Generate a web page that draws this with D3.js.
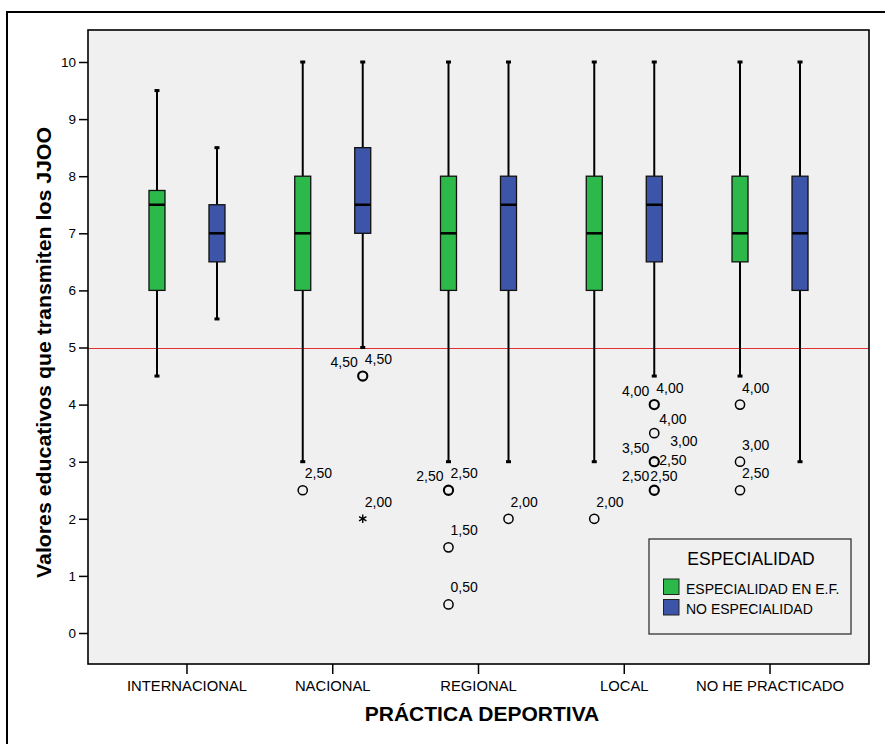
<!DOCTYPE html>
<html>
<head>
<meta charset="utf-8">
<script src="https://cdn.jsdelivr.net/npm/d3@7"></script>
<style>
  html, body { margin: 0; padding: 0; background: #ffffff; }
  svg { display: block; }
  text { font-family: "Liberation Sans", Arial, Helvetica, sans-serif; fill: #000; }
</style>
</head>
<body>
<svg id="chart" width="885" height="744"></svg>
<script>
// ---------------- DATA ----------------
const categories = ["INTERNACIONAL", "NACIONAL", "REGIONAL", "LOCAL", "NO HE PRACTICADO"];
const groups = ["ESPECIALIDAD EN E.F.", "NO ESPECIALIDAD"];
const groupColors = ["#2db84a", "#3d55a8"];

const greenLow  = [4.5, 3, 3, 3, 4.5];
const greenQ1   = [6, 6, 6, 6, 6.5];
const greenMed  = [7.5, 7, 7, 7, 7];
const greenQ3   = [7.75, 8, 8, 8, 8];
const greenHigh = [9.5, 10, 10, 10, 10];

const blueLow  = [5.5, 5, 3, 4.5, 3];
const blueQ1   = [6.5, 7, 6, 6.5, 6];
const blueMed  = [7, 7.5, 7.5, 7.5, 7];
const blueQ3   = [7.5, 8.5, 8, 8, 8];
const blueHigh = [8.5, 10, 10, 10, 10];

const yTicks = [0, 1, 2, 3, 4, 5, 6, 7, 8, 9, 10];
const referenceValue = 5;

// outliers: category, group index, value, marker, labels [text, placement code]
const outliers = [
  {cat: "NACIONAL", g: 0, v: 2.5, mark: "o", labels: [["2,50", "R"]]},
  {cat: "NACIONAL", g: 1, v: 4.5, mark: "o", labels: [["4,50", "L"], ["4,50", "R"]]},
  {cat: "NACIONAL", g: 1, v: 2.0, mark: "*", labels: [["2,00", "R"]]},
  {cat: "REGIONAL", g: 0, v: 2.5, mark: "o", labels: [["2,50", "L"], ["2,50", "R"]]},
  {cat: "REGIONAL", g: 0, v: 1.5, mark: "o", labels: [["1,50", "R"]]},
  {cat: "REGIONAL", g: 0, v: 0.5, mark: "o", labels: [["0,50", "R"]]},
  {cat: "REGIONAL", g: 1, v: 2.0, mark: "o", labels: [["2,00", "R"]]},
  {cat: "LOCAL", g: 0, v: 2.0, mark: "o", labels: [["2,00", "R"]]},
  {cat: "LOCAL", g: 1, v: 4.0, mark: "o", labels: [["4,00", "L"], ["4,00", "R"]]},
  {cat: "LOCAL", g: 1, v: 3.5, mark: "o", labels: [["4,00", "R5"]]},
  {cat: "LOCAL", g: 1, v: 3.0, mark: "o", labels: [["3,50", "L"], ["3,00", "RU"], ["2,50", "RD"]]},
  {cat: "LOCAL", g: 1, v: 2.5, mark: "o", labels: [["2,50", "L"], ["2,50", "C"]]},
  {cat: "NO HE PRACTICADO", g: 0, v: 4.0, mark: "o", labels: [["4,00", "R"]]},
  {cat: "NO HE PRACTICADO", g: 0, v: 3.0, mark: "o", labels: [["3,00", "R"]]},
  {cat: "NO HE PRACTICADO", g: 0, v: 2.5, mark: "o", labels: [["2,50", "R"]]}
];

// ---------------- LAYOUT ----------------
const svg = d3.select("#chart");
const plot = {left: 88, top: 30, right: 869, bottom: 664};

const x = d3.scaleBand().domain(categories).range([114.1, 842.9]).paddingInner(0).paddingOuter(0);
const xc = c => x(c) + x.bandwidth() / 2;
const groupOffset = d3.scalePoint().domain([0, 1]).range([-30, 30]);
const y = d3.scaleLinear().domain([(633 - plot.bottom) / 57.1, (633 - plot.top) / 57.1]).range([plot.bottom, plot.top]);
const boxW = 16;

const boxes = [];
categories.forEach((c, i) => {
  boxes.push({cat: c, g: 0, low: greenLow[i], q1: greenQ1[i], med: greenMed[i], q3: greenQ3[i], high: greenHigh[i]});
  boxes.push({cat: c, g: 1, low: blueLow[i], q1: blueQ1[i], med: blueMed[i], q3: blueQ3[i], high: blueHigh[i]});
});

// outer frame
svg.append("path").attr("d", "M7,760 L7,12 L885,12")
  .attr("fill", "none").attr("stroke", "#000").attr("stroke-width", 2);

// plot background
svg.append("rect").attr("x", plot.left).attr("y", plot.top)
  .attr("width", plot.right - plot.left).attr("height", plot.bottom - plot.top)
  .attr("fill", "#f0f0f0");

// reference line
svg.append("line")
  .attr("x1", plot.left).attr("x2", plot.right)
  .attr("y1", Math.round(y(referenceValue)) + 0.5).attr("y2", Math.round(y(referenceValue)) + 0.5)
  .attr("stroke", "#e03030").attr("stroke-width", 1.2);

// whiskers
const bx = d => xc(d.cat) + groupOffset(d.g);
const gBox = svg.append("g");
gBox.selectAll("line.wlow").data(boxes).join("line")
  .attr("x1", bx).attr("x2", bx).attr("y1", d => y(d.q1)).attr("y2", d => y(d.low))
  .attr("stroke", "#000").attr("stroke-width", 2);
gBox.selectAll("line.whigh").data(boxes).join("line")
  .attr("x1", bx).attr("x2", bx).attr("y1", d => y(d.q3)).attr("y2", d => y(d.high))
  .attr("stroke", "#000").attr("stroke-width", 2);
// caps
gBox.selectAll("rect.caplow").data(boxes).join("rect")
  .attr("x", d => bx(d) - 2.5).attr("y", d => y(d.low) - 1.5).attr("width", 5).attr("height", 3).attr("fill", "#000");
gBox.selectAll("rect.caphigh").data(boxes).join("rect")
  .attr("x", d => bx(d) - 2.5).attr("y", d => y(d.high) - 1.5).attr("width", 5).attr("height", 3).attr("fill", "#000");
// boxes
gBox.selectAll("rect.box").data(boxes).join("rect")
  .attr("x", d => bx(d) - boxW / 2).attr("y", d => y(d.q3))
  .attr("width", boxW).attr("height", d => y(d.q1) - y(d.q3))
  .attr("fill", d => groupColors[d.g]).attr("stroke", "#111").attr("stroke-width", 1.3);
// medians
gBox.selectAll("line.med").data(boxes).join("line")
  .attr("x1", d => bx(d) - boxW / 2).attr("x2", d => bx(d) + boxW / 2)
  .attr("y1", d => y(d.med)).attr("y2", d => y(d.med))
  .attr("stroke", "#000").attr("stroke-width", 2.5);

// outliers
const labelPlacement = {
  R:  {dx: 2,  dy: -12, anchor: "start"},
  L:  {dx: -5, dy: -9,  anchor: "end"},
  C:  {dx: -4, dy: -9,  anchor: "start"},
  R5: {dx: 5,  dy: -9,  anchor: "start"},
  RU: {dx: 16, dy: -16, anchor: "start"},
  RD: {dx: 5,  dy: 3,   anchor: "start"}
};
const gOut = svg.append("g");
outliers.forEach(o => {
  const cx = xc(o.cat) + groupOffset(o.g);
  const cy = y(o.v);
  if (o.mark === "o") {
    gOut.append("circle").attr("cx", cx).attr("cy", cy).attr("r", 4.6)
      .attr("fill", "none").attr("stroke", "#000").attr("stroke-width", o.labels.length > 1 ? 2.1 : 1.5);
  } else {
    gOut.append("path").attr("transform", `translate(${cx},${cy})`)
      .attr("d", d3.symbol().type(d3.symbolAsterisk).size(50)())
      .attr("fill", "none").attr("stroke", "#000").attr("stroke-width", 1.4);
  }
  o.labels.forEach(([t, code]) => {
    const p = labelPlacement[code];
    gOut.append("text").attr("x", cx + p.dx).attr("y", cy + p.dy)
      .attr("text-anchor", p.anchor).attr("font-size", 14).text(t);
  });
});

// plot frame
svg.append("rect").attr("x", plot.left).attr("y", plot.top)
  .attr("width", plot.right - plot.left).attr("height", plot.bottom - plot.top)
  .attr("fill", "none").attr("stroke", "#000").attr("stroke-width", 1.6);

// y axis
const yAxis = svg.append("g").attr("transform", `translate(${plot.left},0)`)
  .call(d3.axisLeft(y).tickValues(yTicks).tickSize(9).tickPadding(3).tickFormat(d3.format("d")));
yAxis.select(".domain").remove();
yAxis.selectAll(".tick line").attr("stroke", "#000").attr("stroke-width", 1.5);
yAxis.selectAll(".tick text").attr("font-size", 13.5).attr("font-family", null).attr("fill", "#000");

// x axis
const xAxis = svg.append("g").attr("transform", `translate(0,${plot.bottom})`)
  .call(d3.axisBottom(x).tickSize(10).tickPadding(6));
xAxis.select(".domain").remove();
xAxis.selectAll(".tick line").attr("stroke", "#000").attr("stroke-width", 1.5);
xAxis.selectAll(".tick text").attr("font-size", 14.8).attr("font-family", null).attr("fill", "#000");

// axis titles
svg.append("text").attr("x", 482).attr("y", 721)
  .attr("text-anchor", "middle").attr("font-size", 21).attr("font-weight", "bold")
  .text("PRÁCTICA DEPORTIVA");
svg.append("text").attr("transform", "translate(51,352.5) rotate(-90)")
  .attr("text-anchor", "middle").attr("font-size", 20).attr("font-weight", "bold")
  .attr("textLength", 451).attr("lengthAdjust", "spacingAndGlyphs")
  .text("Valores educativos que transmiten los JJOO");

// legend
const lg = svg.append("g");
lg.append("rect").attr("x", 649).attr("y", 539).attr("width", 202).attr("height", 95)
  .attr("fill", "#f0f0f0").attr("stroke", "#333").attr("stroke-width", 1.3);
lg.append("text").attr("x", 751).attr("y", 565).attr("text-anchor", "middle")
  .attr("font-size", 17.5).text("ESPECIALIDAD");
groups.forEach((gname, i) => {
  lg.append("rect").attr("x", 663.5).attr("y", 579 + i * 20.5).attr("width", 15.5).attr("height", 15.5)
    .attr("fill", groupColors[i]).attr("stroke", "#222").attr("stroke-width", 1);
  lg.append("text").attr("x", 686).attr("y", 593.5 + i * 20.5).attr("font-size", 14).text(gname);
});
</script>
</body>
</html>
